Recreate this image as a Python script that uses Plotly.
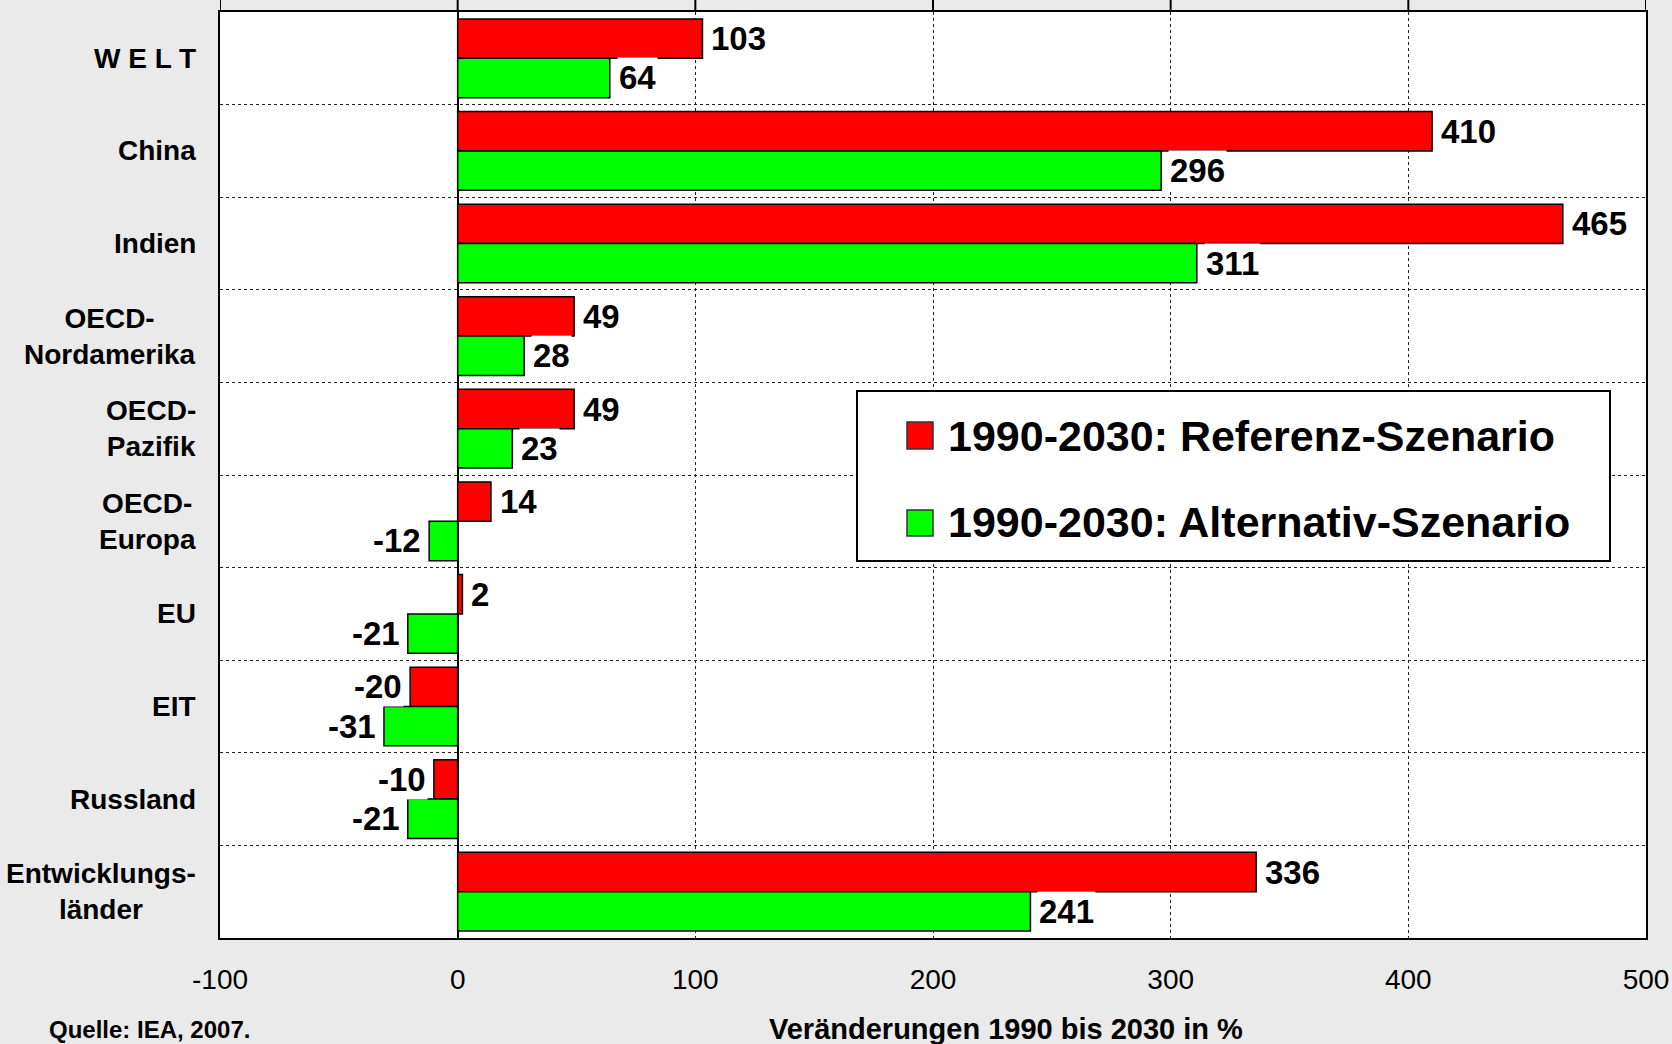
import plotly.graph_objects as go

categories = ["W E L T", "China", "Indien", "OECD-Nordamerika", "OECD-Pazifik",
              "OECD-Europa", "EU", "EIT", "Russland", "Entwicklungsländer"]
category_labels = ["W E L T", "China", "Indien", "OECD-<br>Nordamerika", "OECD-<br>Pazifik",
                   "OECD-<br>Europa", "EU", "EIT", "Russland", "Entwicklungs-<br>länder"]
series_names = ["1990-2030: Referenz-Szenario", "1990-2030: Alternativ-Szenario"]
referenz = [103, 410, 465, 49, 49, 14, 2, -20, -10, 336]
alternativ = [64, 296, 311, 28, 23, -12, -21, -31, -21, 241]
series_colors = ["#FF0000", "#00FF00"]
x_ticks = [-100, 0, 100, 200, 300, 400, 500]
x_ticktext = ["-100", "0", "100", "200", "300", "400", "500"]
x_title = "Veränderungen 1990 bis 2030 in %"
source_text = "Quelle: IEA, 2007."

FONT = "Liberation Sans, Arial, sans-serif"
W, H = 1672, 1044
L, R, T, B = 220, 26, 12, 106
pw = W - L - R
ph = H - T - B

def px_x(px):
    return (px - L) / pw

def px_y(py):
    return (H - B - py) / ph

fig = go.Figure()
for name, vals, col in zip(series_names, [referenz, alternativ], series_colors):
    fig.add_trace(go.Bar(
        y=categories, x=vals, name=name, orientation="h",
        marker=dict(color=col, line=dict(color="#000000", width=1.5)),
        showlegend=False, hoverinfo="x+y",
    ))

annotations = []
# category labels
for cat, lab in zip(categories, category_labels):
    annotations.append(dict(
        x=px_x(198), xref="paper", y=cat, yref="y", text=f"<b>{lab}</b>",
        showarrow=False, xanchor="right", yanchor="middle", align="center",
        font=dict(family=FONT, size=28, color="#000000"),
    ))
# value labels
cat_px = ph / len(categories)
off = cat_px * 0.85 / 4
for vals, ysh in [(referenz, off), (alternativ, -off)]:
    for cat, v in zip(categories, vals):
        annotations.append(dict(
            x=v, xref="x", y=cat, yref="y", text=f"<b>{v}</b>",
            showarrow=False, xanchor="left" if v >= 0 else "right",
            yanchor="middle", xshift=7 if v >= 0 else -6, yshift=ysh,
            bgcolor="#FFFFFF", borderpad=1,
            font=dict(family=FONT, size=33, color="#000000"),
        ))
# axis title
annotations.append(dict(
    x=px_x(1006), xref="paper", y=px_y(1029), yref="paper",
    text=f"<b>{x_title}</b>", showarrow=False, xanchor="center", yanchor="middle",
    font=dict(family=FONT, size=29, color="#000000"),
))
# source
annotations.append(dict(
    x=px_x(47), xref="paper", y=px_y(1014), yref="paper",
    text=f"<b>{source_text}</b>", showarrow=False, xanchor="left", yanchor="top",
    font=dict(family=FONT, size=24, color="#000000"),
))

# manual legend
shapes = [dict(type="rect", xref="paper", yref="paper",
               x0=px_x(857), x1=px_x(1610), y0=px_y(561), y1=px_y(391),
               fillcolor="#FFFFFF", line=dict(color="#000000", width=2), layer="above")]
legend_rows = [(422, 449, 435.5), (510, 536, 522)]
for (t, b, c), name, col in zip(legend_rows, series_names, series_colors):
    shapes.append(dict(type="rect", xref="paper", yref="paper",
                       x0=px_x(907), x1=px_x(933), y0=px_y(b), y1=px_y(t),
                       fillcolor=col, line=dict(color="#333333", width=1.5), layer="above"))
    annotations.append(dict(
        x=px_x(946), xref="paper", y=px_y(c), yref="paper", text=f"<b>{name}</b>",
        showarrow=False, xanchor="left", yanchor="middle",
        font=dict(family=FONT, size=43, color="#000000"),
    ))
# small top ticks above the frame
for tv in x_ticks:
    shapes.append(dict(type="line", xref="x", yref="paper", x0=tv, x1=tv,
                       y0=1, y1=1 + 12 / ph, line=dict(color="#000000", width=2),
                       layer="above"))

fig.update_layout(
    template="none",
    width=W, height=H,
    margin=dict(l=L, r=R, t=T, b=B, pad=0, autoexpand=False),
    paper_bgcolor="#EAEAEA", plot_bgcolor="#FFFFFF",
    barmode="group", bargap=0.15, bargroupgap=0,
    font=dict(family=FONT, color="#000000"),
    showlegend=False,
    annotations=annotations, shapes=shapes,
    xaxis=dict(range=[-100, 500], tickvals=x_ticks, ticktext=x_ticktext, ticks="",
               automargin=False,
               tickfont=dict(family=FONT, size=28, color="#000000"),
               ticklabelstandoff=15,
               showgrid=True, gridcolor="#222222", gridwidth=1, griddash="dot",
               zeroline=True, zerolinecolor="#000000", zerolinewidth=2,
               showline=True, linecolor="#000000", linewidth=2, mirror=True),
    yaxis=dict(autorange="reversed", type="category", tickson="boundaries",
               automargin=False,
               showticklabels=False, ticks="",
               showgrid=True, gridcolor="#222222", gridwidth=1, griddash="dot",
               zeroline=False,
               showline=True, linecolor="#000000", linewidth=2, mirror=True),
)

fig.write_html("out.html", config={"displayModeBar": False},
               post_script="document.body.style.margin='0';document.body.style.padding='0';")
